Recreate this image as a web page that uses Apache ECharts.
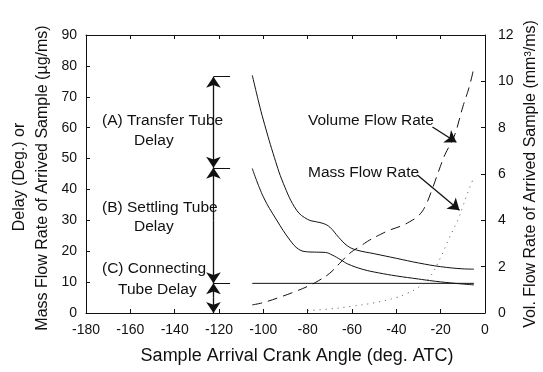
<!DOCTYPE html>
<html><head><meta charset="utf-8">
<script src="https://cdn.jsdelivr.net/npm/echarts@6/dist/echarts.min.js"></script>
<style>html,body{margin:0;padding:0;background:#fff}#c{width:543px;height:372px}</style>
</head><body><div id="c"></div>
<script>
// Crank angle (deg ATC) / value pairs
const transferDelayCurve = [[-105,77],[-102,68],[-100,62.5],[-95.6,51.7],[-91,42],[-85,33.3],[-80,30.3],[-76,29.5],[-73,29],[-70,27.8],[-66,24.5],[-62,21.7],[-58,20.4],[-50,19.2],[-40,17.7],[-30,16.2],[-20,15.0],[-10,14.3],[-5,14.2]];
const settlingDelayCurve = [[-105,46.8],[-100,37.6],[-94,30.1],[-88,23.6],[-84,20.6],[-80,19.8],[-76,19.7],[-72,19.6],[-69,18.8],[-65,17.2],[-62,15.9],[-55,14.1],[-48,13],[-40,12],[-30,11],[-25,10.5],[-15,9.7],[-5,9.1]];
const connectingDelayLine = [[-105,9.6],[-5,9.6]];
const volumeFlowRate = [[-105,0.35],[-100,0.45],[-92,0.70],[-85,0.95],[-80,1.15],[-75,1.4],[-70,1.72],[-65,2.2],[-61,2.58],[-56,2.9],[-52,3.15],[-47,3.4],[-43,3.58],[-38,3.75],[-34,3.94],[-30,4.2],[-27,4.6],[-24,5.3],[-21,6.1],[-18,6.85],[-14,7.6],[-10,8.9],[-7,9.8],[-5,10.6]];
const massFlowRate = [[-80,0.8],[-70,1.3],[-60,2.2],[-50,3.3],[-40,5.0],[-35,6.4],[-30,8.3],[-25,11.5],[-20,18],[-16,24.5],[-12,30.5],[-10,34.5],[-7.5,39.5],[-5,44]];
const bracketX = -122.5;
const bracketLevels = [76.5, 47, 9.6];
const xTicks = [-180,-160,-140,-120,-100,-80,-60,-40,-20,0];
const leftTicks = [0,10,20,30,40,50,60,70,80,90];
const rightTicks = [0,2,4,6,8,10,12];

const F = '"Liberation Sans", Arial, Helvetica, sans-serif';
const ink = '#111';
const chart = echarts.init(document.getElementById('c'));

const bracketTicks = bracketLevels.map(v => ({coords: [[bracketX, v], [-115, v]]}));
const arrows = [
  [[bracketX, 62],[bracketX, 76.5]],
  [[bracketX, 62],[bracketX, 47]],
  [[bracketX, 30],[bracketX, 47]],
  [[bracketX, 30],[bracketX, 9.6]],
  [[bracketX, 5],[bracketX, 9.6]],
  [[bracketX, 5],[bracketX, 0]],
  [[-23.7, 60.2],[-12.9, 55.3]],
  [[-30.5, 44.7],[-11.5, 33.3]]
].map(c => ({coords: c}));

const lineBase = {type:'line', showSymbol:false, symbol:'none', smooth:0.4, animation:false, silent:true};

chart.setOption({
  animation: false,
  backgroundColor: '#fff',
  grid: {left: 86, right: 58, top: 35, bottom: 59},
  xAxis: [{
    type:'value', min:-180, max:0, interval:20,
    axisLine:{show:true, onZero:false, lineStyle:{color:ink, width:1}},
    axisTick:{show:true, inside:true, length:4, lineStyle:{color:ink}},
    axisLabel:{color:ink, fontFamily:F, fontSize:14, margin:10, customValues: xTicks},
    splitLine:{show:false}
  },{
    type:'value', min:-180, max:0, interval:20, position:'top',
    axisLine:{show:true, onZero:false, lineStyle:{color:ink, width:1}},
    axisTick:{show:true, inside:true, length:4, lineStyle:{color:ink}},
    axisLabel:{show:false}, splitLine:{show:false}
  }],
  yAxis: [{
    type:'value', min:0, max:90, interval:10, position:'left',
    axisLine:{show:true, onZero:false, lineStyle:{color:ink, width:1}},
    axisTick:{show:true, inside:true, length:4, lineStyle:{color:ink}},
    axisLabel:{color:ink, fontFamily:F, fontSize:14, margin:9, customValues: leftTicks},
    splitLine:{show:false}
  },{
    type:'value', min:0, max:12, interval:2, position:'right',
    axisLine:{show:true, onZero:false, lineStyle:{color:ink, width:1}},
    axisTick:{show:true, inside:true, length:4, lineStyle:{color:ink}},
    axisLabel:{color:ink, fontFamily:F, fontSize:14, margin:13, customValues: rightTicks},
    splitLine:{show:false}
  }],
  series: [
    Object.assign({}, lineBase, {name:'upper', data: transferDelayCurve, lineStyle:{color:ink, width:1}}),
    Object.assign({}, lineBase, {name:'lower', data: settlingDelayCurve, lineStyle:{color:ink, width:1}}),
    Object.assign({}, lineBase, {name:'conn', smooth:false, data: connectingDelayLine, lineStyle:{color:ink, width:1}}),
    Object.assign({}, lineBase, {name:'Volume Flow Rate', yAxisIndex:1, data: volumeFlowRate, lineStyle:{color:ink, width:1, type:[10,6]}}),
    Object.assign({}, lineBase, {name:'Mass Flow Rate', data: massFlowRate, lineStyle:{color:'#555', width:1, type:[1,5]}}),
    {type:'lines', coordinateSystem:'cartesian2d', silent:true, animation:false, symbol:['none','none'],
     lineStyle:{color:ink, width:1, opacity:1}, data: bracketTicks},
    {type:'lines', coordinateSystem:'cartesian2d', silent:true, animation:false, symbol:['none','arrow'], symbolSize:[7,11],
     lineStyle:{color:ink, width:1.3, opacity:1}, data: arrows}
  ],
  graphic: [
    {type:'text', left:102, top:113, style:{text:'(A) Transfer Tube', font:'15.5px '+F, fill:ink}},
    {type:'text', left:134, top:133, style:{text:'Delay', font:'15.5px '+F, fill:ink}},
    {type:'text', left:102, top:200, style:{text:'(B) Settling Tube', font:'15.5px '+F, fill:ink}},
    {type:'text', left:134, top:219, style:{text:'Delay', font:'15.5px '+F, fill:ink}},
    {type:'text', left:102, top:261, style:{text:'(C) Connecting', font:'15.5px '+F, fill:ink}},
    {type:'text', left:118, top:282, style:{text:'Tube Delay', font:'15.5px '+F, fill:ink}},
    {type:'text', left:308, top:113, style:{text:'Volume Flow Rate', font:'15.5px '+F, fill:ink}},
    {type:'text', left:308, top:165, style:{text:'Mass Flow Rate', font:'15.5px '+F, fill:ink}},
    {type:'text', x:297, y:356, style:{text:'Sample Arrival Crank Angle (deg. ATC)', font:'18px '+F, fill:ink, align:'center', verticalAlign:'middle'}},
    {type:'text', x:20, y:177, rotation:Math.PI/2, style:{text:'Delay (Deg.) or', font:'16px '+F, fill:ink, align:'center', verticalAlign:'middle'}},
    {type:'text', x:43, y:178, rotation:Math.PI/2, style:{text:'Mass Flow Rate of Arrived Sample (\u00b5g/ms)', font:'16px '+F, fill:ink, align:'center', verticalAlign:'middle'}},
    {type:'text', x:531, y:174, rotation:Math.PI/2, style:{text:'Vol. Flow Rate of Arrived Sample (mm\u00b3/ms)', font:'16px '+F, fill:ink, align:'center', verticalAlign:'middle'}}
  ]
});
</script></body></html>
